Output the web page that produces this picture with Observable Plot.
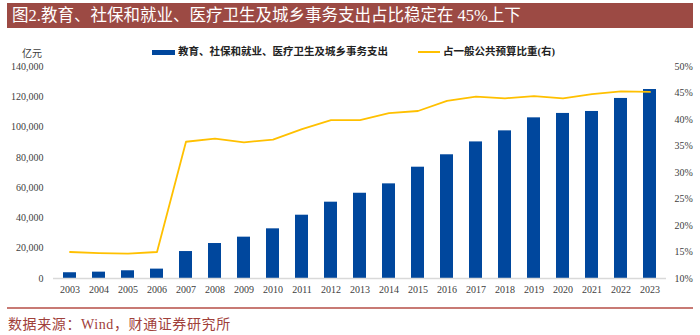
<!DOCTYPE html>
<html><head><meta charset="utf-8">
<script src="https://cdn.jsdelivr.net/npm/d3@7"></script>
<script src="https://cdn.jsdelivr.net/npm/@observablehq/plot@0.6"></script>
<style>
body{margin:0;background:#fff;}
#wrap{position:relative;width:700px;height:335px;overflow:hidden;font-family:"Liberation Serif","Noto Sans CJK SC",serif;}
#chart{position:absolute;left:0;top:0;}
#title{position:absolute;left:7px;top:3px;width:686px;height:25px;background:#9C4A44;color:#fff;font-size:16.5px;line-height:25px;padding-left:5px;box-sizing:border-box;white-space:nowrap;}
.lbl{position:absolute;font-size:10px;color:#404040;white-space:nowrap;}
.leg{position:absolute;font-size:10.5px;font-weight:bold;color:#222;white-space:nowrap;line-height:12px;}
#sw1{position:absolute;left:152px;top:50px;width:23px;height:5px;background:#00479D;}
#sw2{position:absolute;left:418px;top:51px;width:22px;height:2px;background:#FFC000;}
#rule{position:absolute;left:7px;top:307px;width:686px;height:1.5px;background:#C87A74;}
#foot{position:absolute;left:8px;top:316px;font-size:14px;letter-spacing:0.6px;color:#A0403A;white-space:nowrap;line-height:18px;}
</style></head>
<body>
<div id="wrap">
<div id="chart"></div>
<div id="title">图2.教育、社保和就业、医疗卫生及城乡事务支出占比稳定在 45%上下</div>
<div class="lbl" style="left:22px;top:45px;">亿元</div>
<div id="sw1"></div><div class="leg" style="left:178px;top:46px;">教育、社保和就业、医疗卫生及城乡事务支出</div>
<div id="sw2"></div><div class="leg" style="left:443px;top:46px;">占一般公共预算比重(右)</div>
<div id="rule"></div>
<div id="foot">数据来源：Wind，财通证券研究所</div>
</div>
<script>
const years = [2003,2004,2005,2006,2007,2008,2009,2010,2011,2012,2013,2014,2015,2016,2017,2018,2019,2020,2021,2022,2023];
const spending = [3800,4200,5100,6200,17800,23100,27300,32800,41800,50400,56300,62500,73500,81700,90200,97500,106100,109000,110300,118900,124800];
const share = [15.0,14.8,14.7,15.0,35.8,36.4,35.7,36.2,38.2,39.9,39.9,41.2,41.6,43.5,44.3,44.0,44.4,44.0,44.8,45.3,45.2];
const leftTicks = [0,20000,40000,60000,80000,100000,120000,140000];
const rightTicks = [10,15,20,25,30,35,40,45,50];

const leftMax = 140000, rMin = 10, rMax = 50;
const toLeft = p => (p - rMin) / (rMax - rMin) * leftMax;
const data = years.map((y, i) => ({year: String(y), spending: spending[i], share: share[i]}));

const chart = Plot.plot({
  width: 700, height: 335,
  marginTop: 66, marginBottom: 57, marginLeft: 53, marginRight: 34,
  x: {type: "band", domain: years.map(String), paddingInner: 0.55, paddingOuter: 0.275, label: null},
  y: {domain: [0, leftMax], label: null},
  style: {fontFamily: '"Liberation Serif", serif', fontSize: "10px", color: "#404040", background: "transparent"},
  marks: [
    Plot.axisY(leftTicks, {anchor: "left", tickSize: 0, tickPadding: 10, label: null, tickFormat: d => d3.format(",")(d)}),
    Plot.axisY(rightTicks.map(toLeft), {anchor: "right", tickSize: 0, tickPadding: 8, label: null,
      tickFormat: d => Math.round(d / leftMax * (rMax - rMin) + rMin) + "%"}),
    Plot.axisX({tickSize: 0, tickPadding: 7, label: null}),
    Plot.barY(data, {x: "year", y: "spending", fill: "#00479D"}),
    Plot.ruleY([0], {stroke: "#D9D9D9", strokeWidth: 1.5}),
    Plot.lineY(data, {x: "year", y: d => toLeft(d.share), stroke: "#FFC000", strokeWidth: 1.8})
  ]
});
document.getElementById("chart").appendChild(chart);
</script>
</body></html>
